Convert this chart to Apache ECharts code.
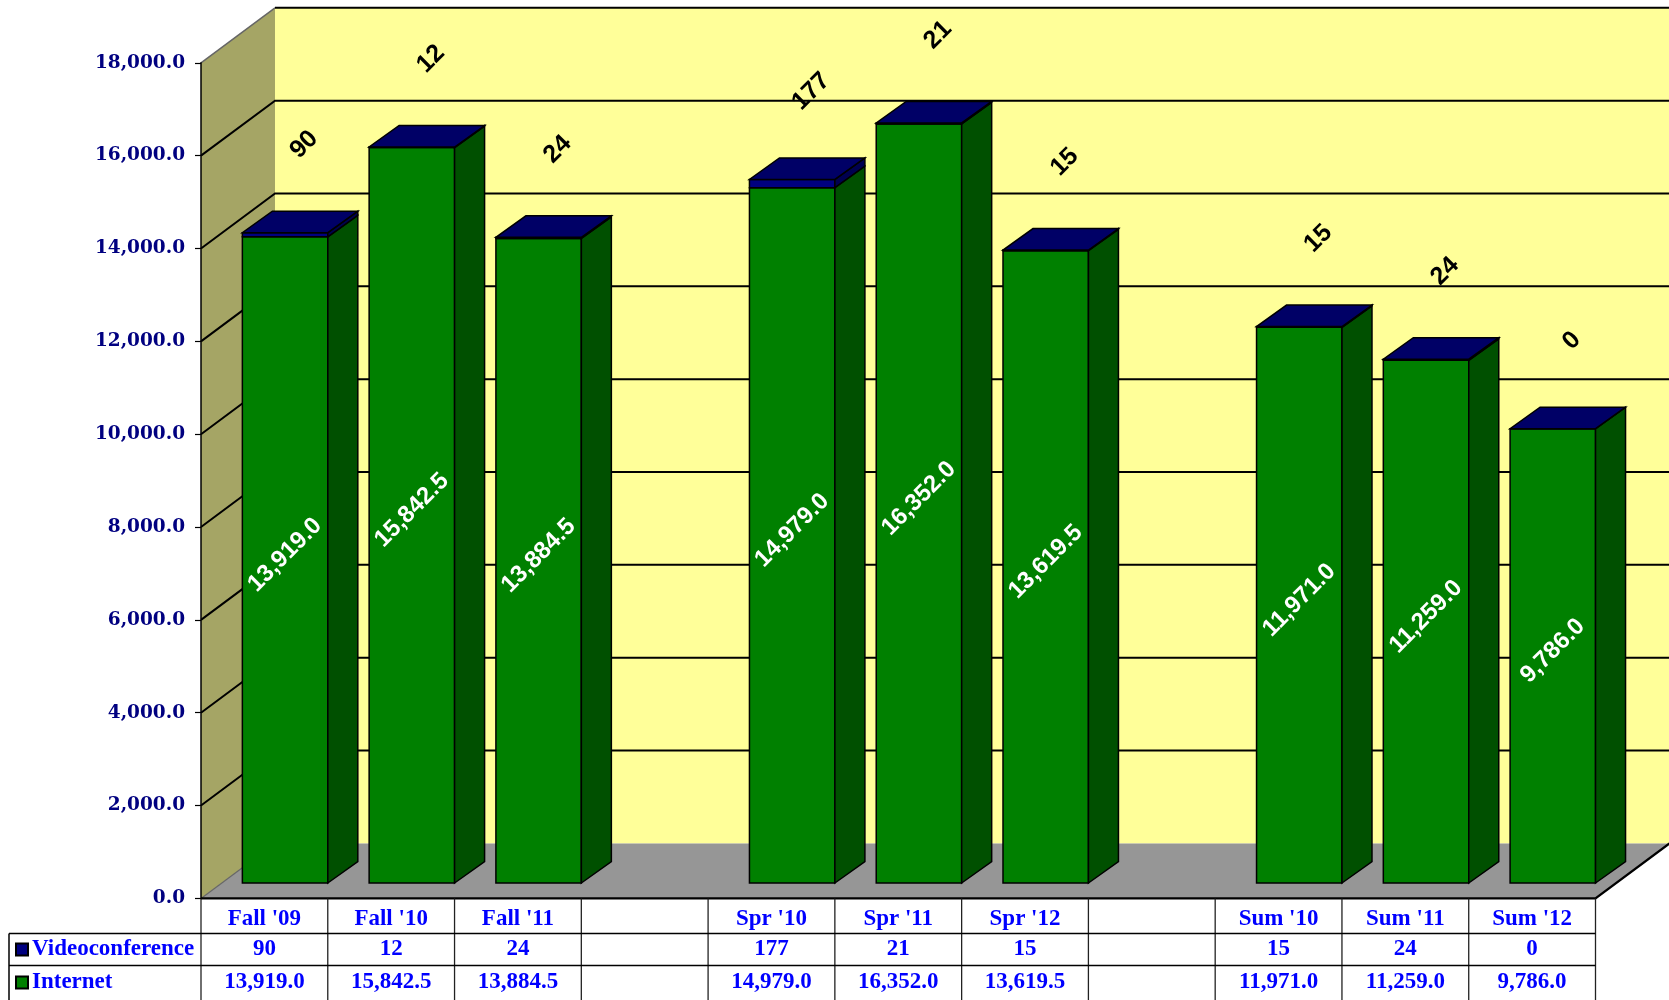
<!DOCTYPE html>
<html>
<head>
<meta charset="utf-8">
<script src="https://cdn.jsdelivr.net/npm/echarts@6/dist/echarts.min.js"></script>
<style>
  html, body { margin: 0; padding: 0; background: #fff; }
  #chart { width: 1669px; height: 1000px; }
</style>
</head>
<body>
<div id="chart"></div>
<script>
// categories (empty ones are the gaps between terms)
var categories = ["Fall '09", "Fall '10", "Fall '11", "", "Spr '10", "Spr '11", "Spr '12", "", "Sum '10", "Sum '11", "Sum '12"];
var seriesNames = ['Videoconference', 'Internet'];
var videoconference = [90, 12, 24, null, 177, 21, 15, null, 15, 24, 0];
var internet = [13919.0, 15842.5, 13884.5, null, 14979.0, 16352.0, 13619.5, null, 11971.0, 11259.0, 9786.0];
var yTicks = [0, 2000, 4000, 6000, 8000, 10000, 12000, 14000, 16000, 18000];

// 3d look
var DX = 74, DY = -55;          // depth of the whole floor
var FX = 20.7, FY = -15.4;      // bar front face offset
var SX = 30, SY = -21.5;        // bar depth
var C = {
  wall: '#ffff99', side: '#a5a565', floor: '#969696',
  netFront: '#008000', netSide: '#005000',
  vcFront: '#000080', vcSide: '#000050', vcTop: '#000066',
  table: '#0000ff', axis: '#000080'
};

function fmt1(v) {
  return v.toLocaleString('en-US', { minimumFractionDigits: 1, maximumFractionDigits: 1 });
}

var barData = [];
for (var i = 0; i < categories.length; i++) {
  if (internet[i] == null) continue;
  barData.push([i, internet[i], videoconference[i]]);
}

var myChart = echarts.init(document.getElementById('chart'));

function renderWalls(params, api) {
  var cs = params.coordSys;
  var x0 = cs.x, x1 = cs.x + cs.width, yT = cs.y, yB = cs.y + cs.height;
  var kids = [];
  kids.push({ type: 'rect', shape: { x: x0 + DX, y: yT + DY, width: x1 - x0, height: yB - yT }, style: { fill: C.wall } });
  kids.push({ type: 'polygon', shape: { points: [[x0, yB], [x0 + DX, yB + DY], [x0 + DX, yT + DY], [x0, yT]] }, style: { fill: C.side } });
  kids.push({ type: 'polygon', shape: { points: [[x0, yB], [x1, yB], [x1 + DX, yB + DY], [x0 + DX, yB + DY]] }, style: { fill: C.floor } });
  yTicks.forEach(function (v) {
    if (v === 0 || v === 18000) return;
    var y = api.coord([0, v])[1];
    kids.push({ type: 'polyline', shape: { points: [[x0, y], [x0 + DX, y + DY], [x1 + DX, y + DY]] }, style: { stroke: '#000', lineWidth: 2, fill: null } });
  });
  kids.push({ type: 'polyline', shape: { points: [[x0, yT], [x0 + DX, yT + DY]] }, style: { stroke: '#666', lineWidth: 1.5, fill: null } });
  kids.push({ type: 'polyline', shape: { points: [[x0 + DX, yT + DY], [x1 + DX, yT + DY]] }, style: { stroke: '#000', lineWidth: 2, fill: null } });
  kids.push({ type: 'polyline', shape: { points: [[x0, yB], [x0 + DX, yB + DY]] }, style: { stroke: '#666', lineWidth: 1.2, fill: null } });
  kids.push({ type: 'polyline', shape: { points: [[x0, yB], [x1, yB], [x1 + DX, yB + DY]] }, style: { stroke: '#000', lineWidth: 2.4, fill: null } });

  // data table grid
  var cw = cs.width / categories.length;
  var r1 = yB + 35, r2 = yB + 67, rEnd = 1000;
  for (var k = 0; k <= categories.length; k++) {
    var x = x0 + k * cw;
    kids.push({ type: 'line', shape: { x1: x, y1: yB, x2: x, y2: rEnd }, style: { stroke: '#222', lineWidth: 1.3 } });
  }
  kids.push({ type: 'line', shape: { x1: 9, y1: r1, x2: x1, y2: r1 }, style: { stroke: '#000', lineWidth: 1.5 } });
  kids.push({ type: 'line', shape: { x1: 9, y1: r2, x2: x1, y2: r2 }, style: { stroke: '#000', lineWidth: 1.5 } });
  kids.push({ type: 'line', shape: { x1: 9, y1: r1, x2: 9, y2: rEnd }, style: { stroke: '#000', lineWidth: 1.5 } });
  var keys = [C.vcFront, C.netFront];
  [r1, r2].forEach(function (r, j) {
    var yc = r + (j === 0 ? 16 : 17);
    kids.push({ type: 'rect', shape: { x: 16, y: yc - 6, width: 12, height: 12 }, style: { fill: keys[j], stroke: '#000', lineWidth: 2 } });
    kids.push({ type: 'text', style: { text: seriesNames[j], x: 32, y: yc, fill: C.table, font: 'bold 23px "Liberation Serif"', align: 'left', verticalAlign: 'middle' } });
  });
  return { type: 'group', children: kids };
}

function renderBar(params, api) {
  var i = api.value(0), net = api.value(1), vc = api.value(2);
  var cx = api.coord([i, 0])[0];
  var half = api.size([1, 0])[0] * 0.337;
  var xl = cx - half + FX, xr = cx + half + FX;
  function yAt(v) { return api.coord([i, v])[1] + FY; }
  var edge = { stroke: '#000', lineWidth: 1.5 };
  function seg(v0, v1, front, side) {
    var ya = yAt(v0), yb = yAt(v1);
    return [
      { type: 'polygon', shape: { points: [[xl, ya], [xr, ya], [xr, yb], [xl, yb]] }, style: Object.assign({ fill: front }, edge) },
      { type: 'polygon', shape: { points: [[xr, ya], [xr + SX, ya + SY], [xr + SX, yb + SY], [xr, yb]] }, style: Object.assign({ fill: side }, edge) }
    ];
  }
  var total = net + vc;
  var yt = yAt(total);
  var kids = seg(0, net, C.netFront, C.netSide).concat(seg(net, total, C.vcFront, C.vcSide));
  kids.push({ type: 'polygon', shape: { points: [[xl, yt], [xr, yt], [xr + SX, yt + SY], [xl + SX, yt + SY]] }, style: Object.assign({ fill: C.vcTop }, edge) });
  var fcx = (xl + xr) / 2;
  kids.push({
    type: 'text', x: fcx, y: (yAt(0) + yAt(net)) / 2 - 5, rotation: Math.PI / 4,
    style: { text: fmt1(net), x: 0, y: 0, fill: '#fff', font: 'bold 24px "Liberation Sans"', align: 'center', verticalAlign: 'middle' }
  });
  kids.push({
    type: 'text', x: fcx + 19, y: yt - 88, rotation: Math.PI / 4,
    style: { text: String(vc), x: 0, y: 0, fill: '#000', font: 'bold 25px "Liberation Sans"', align: 'center', verticalAlign: 'middle' }
  });
  return { type: 'group', children: kids };
}

function renderTable(params, api) {
  var i = api.value(0), net = api.value(1), vc = api.value(2);
  var x = api.coord([i, 0])[0];
  var yB = api.coord([i, 0])[1];
  var font = 'bold 23px "Liberation Serif"';
  return {
    type: 'group', children: [
      { type: 'text', style: { text: String(vc), x: x, y: yB + 51, fill: C.table, font: font, align: 'center', verticalAlign: 'middle' } },
      { type: 'text', style: { text: fmt1(net), x: x, y: yB + 84, fill: C.table, font: font, align: 'center', verticalAlign: 'middle' } }
    ]
  };
}

var option = {
  animation: false,
  grid: { left: 201, right: 73.5, top: 62.8, bottom: 101.6, outerBoundsMode: 'none' },
  xAxis: {
    type: 'category',
    data: categories,
    axisLine: { show: false },
    axisTick: { show: false },
    splitLine: { show: false },
    axisLabel: { interval: 0, margin: 9, color: C.table, fontFamily: 'Liberation Serif', fontWeight: 'bold', fontSize: 23 }
  },
  yAxis: {
    type: 'value', min: 0, max: 18000, interval: 2000, z: 5,
    axisLine: { show: true, lineStyle: { color: '#000', width: 1.5 } },
    axisTick: { show: true, length: 6, lineStyle: { color: '#000', width: 1.2 } },
    splitLine: { show: false },
    axisLabel: { margin: 16, color: C.axis, fontFamily: 'DejaVu Serif', fontWeight: 'bold', fontSize: 18.5, formatter: fmt1 }
  },
  series: [
    { type: 'custom', name: 'walls', renderItem: renderWalls, data: [[0, 0]], z: 1, silent: true },
    { type: 'custom', name: 'bars', renderItem: renderBar, data: barData, z: 3, encode: { x: 0, y: 1 } },
    { type: 'custom', name: 'table', renderItem: renderTable, data: barData, z: 3, encode: { x: 0, y: 1 } }
  ]
};
myChart.setOption(option);
</script>
</body>
</html>
